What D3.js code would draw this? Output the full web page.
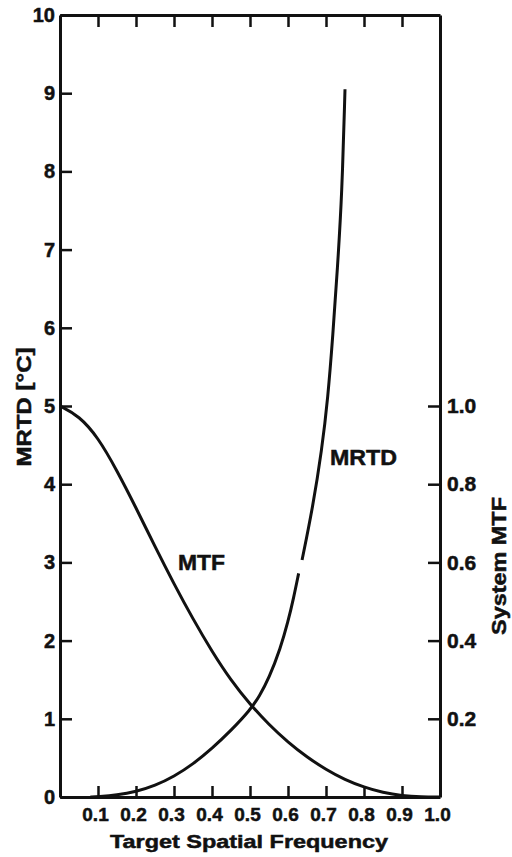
<!DOCTYPE html>
<html>
<head>
<meta charset="utf-8">
<script src="https://cdn.jsdelivr.net/npm/d3@7"></script>
<style>
  body { margin: 0; background: #fff; }
  text { font-family: "Liberation Sans", Arial, sans-serif; font-weight: bold; fill: #111; stroke: #111; stroke-width: 0.5; }
</style>
</head>
<body>
<svg id="chart" width="512" height="857"></svg>
<script>
// Tick values
const freqTicks = [0.1, 0.2, 0.3, 0.4, 0.5, 0.6, 0.7, 0.8, 0.9, 1.0]
const topTicks = [0.1, 0.2, 0.3, 0.4, 0.5, 0.6, 0.7, 0.8, 0.9]
const mrtdTicks = [0, 1, 2, 3, 4, 5, 6, 7, 8, 9, 10]
const mtfTicks = [0.2, 0.4, 0.6, 0.8, 1.0]

// System MTF curve (frequency, MTF)
const mtfFreq = [0, 0.05, 0.1, 0.15, 0.2, 0.25, 0.3, 0.35, 0.4, 0.45, 0.5, 0.55, 0.6, 0.65, 0.7, 0.75, 0.8, 0.85, 0.9, 0.95, 1.0]
const mtfValue = [1.0, 0.975, 0.92, 0.835, 0.74, 0.64, 0.545, 0.455, 0.372, 0.298, 0.237, 0.185, 0.14, 0.102, 0.07, 0.044, 0.025, 0.011, 0.003, 0.0, 0.0]

// MRTD curve, drawn in two pieces (the scan has a small break in it)
const mrtdLowFreq = [0.08, 0.1, 0.15, 0.2, 0.25, 0.3, 0.35, 0.4, 0.45, 0.5, 0.525, 0.55, 0.58, 0.6, 0.615, 0.628]
const mrtdLowValue = [0, 0.005, 0.025, 0.068, 0.145, 0.262, 0.42, 0.62, 0.85, 1.11, 1.29, 1.52, 1.9, 2.24, 2.55, 2.86]
const mrtdHighFreq = [0.637, 0.665, 0.689, 0.705, 0.718, 0.73, 0.742, 0.75]
const mrtdHighValue = [3.03, 3.7, 4.44, 5.1, 5.9, 6.75, 7.7, 9.05]

const svg = d3.select('#chart')

const plotLeft = 60, plotRight = 440, plotTop = 15, plotBottom = 797

const xScale = d3.scaleLinear().domain([0, 1]).range([plotLeft, plotRight])
const yScale = d3.scaleLinear().domain([0, 10]).range([plotBottom, plotTop])
const mtfScale = d3.scaleLinear().domain([0, 2]).range([plotBottom, plotTop])

const fmt = d3.format('.1f')

// Axes, all ticks pointing inward
const gLeft = svg.append('g').attr('transform', `translate(${plotLeft},0)`)
  .call(d3.axisLeft(yScale).tickValues(mrtdTicks).tickSizeInner(-12).tickSizeOuter(0).tickPadding(5))

const gBottom = svg.append('g').attr('transform', `translate(0,${plotBottom})`)
  .call(d3.axisBottom(xScale).tickValues(freqTicks).tickFormat(fmt).tickSizeInner(-11).tickSizeOuter(0).tickPadding(11))

const gTop = svg.append('g').attr('transform', `translate(0,${plotTop})`)
  .call(d3.axisTop(xScale).tickValues(topTicks).tickFormat('').tickSizeInner(-12).tickSizeOuter(0))

const gRight = svg.append('g').attr('transform', `translate(${plotRight},0)`)
  .call(d3.axisRight(mtfScale).tickValues(mtfTicks).tickFormat(fmt).tickSizeInner(-12).tickSizeOuter(0).tickPadding(7))

// Heavy scanned look for all axes
svg.selectAll('.domain').attr('stroke', '#111').attr('stroke-width', 3)
svg.selectAll('.tick line').attr('stroke', '#111').attr('stroke-width', 2.5)
svg.selectAll('.tick text').attr('font-size', 20).attr('font-family', null).attr('fill', null)
gBottom.selectAll('.tick text').attr('font-size', 19).attr('dx', -3)
gRight.selectAll('.tick text').attr('font-size', 21)

// Curves
const line = d3.line()
  .x((d) => xScale(d[0]))
  .y((d) => d[1])
  .curve(d3.curveBasis)

const mtfPoints = mtfFreq.map((f, i) => [f, mtfScale(mtfValue[i])])
const lowPoints = mrtdLowFreq.map((f, i) => [f, yScale(mrtdLowValue[i])])
const highPoints = mrtdHighFreq.map((f, i) => [f, yScale(mrtdHighValue[i])])

const curves = svg.append('g').attr('fill', 'none').attr('stroke', '#111').attr('stroke-width', 3)
curves.append('path').attr('d', line(mtfPoints))
curves.append('path').attr('d', line(lowPoints))
curves.append('path').attr('d', line(highPoints))

// Curve labels
svg.append('text').attr('x', 178).attr('y', 570).attr('font-size', 22)
  .attr('textLength', 47).attr('lengthAdjust', 'spacingAndGlyphs').text('MTF')
svg.append('text').attr('x', 330).attr('y', 465).attr('font-size', 22)
  .attr('textLength', 67).attr('lengthAdjust', 'spacingAndGlyphs').text('MRTD')

// Axis titles
svg.append('text').attr('x', 249).attr('y', 848).attr('text-anchor', 'middle')
  .attr('font-size', 19).attr('textLength', 278).attr('lengthAdjust', 'spacingAndGlyphs')
  .text('Target Spatial Frequency')

svg.append('text').attr('transform', 'translate(31,407) rotate(-90)').attr('text-anchor', 'middle')
  .attr('font-size', 21).attr('textLength', 119).attr('lengthAdjust', 'spacingAndGlyphs')
  .text('MRTD [°C]')

svg.append('text').attr('transform', 'translate(506,566) rotate(-90)').attr('text-anchor', 'middle')
  .attr('font-size', 20).attr('textLength', 138).attr('lengthAdjust', 'spacingAndGlyphs')
  .text('System MTF')
</script>
</body>
</html>
